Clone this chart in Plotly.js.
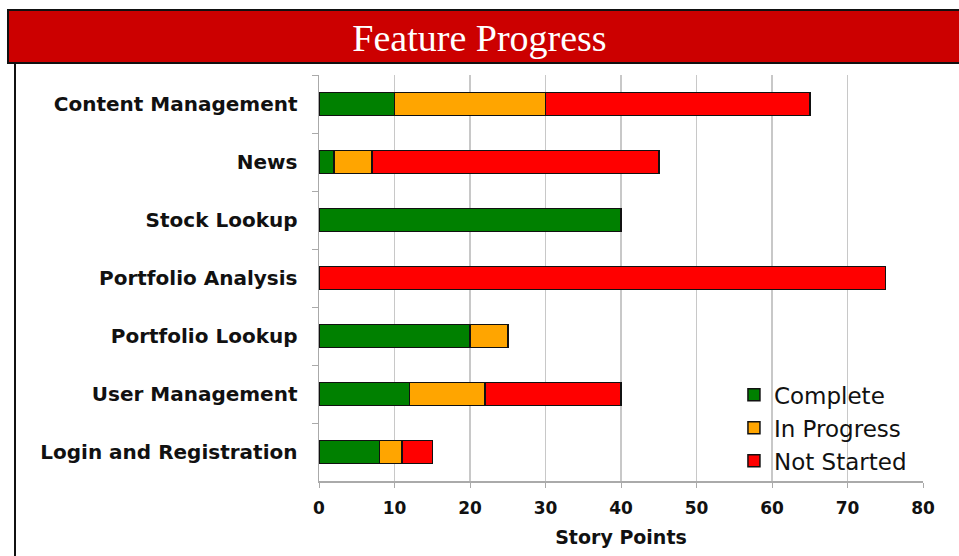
<!DOCTYPE html>
<html><head><meta charset="utf-8">
<script src="https://cdn.plot.ly/plotly-3.0.1.min.js"></script>
<style>html,body{margin:0;padding:0;background:#fff;}#chart{width:959px;height:556px;}</style>
</head><body><div id="chart"></div>
<script>
const categories = ["Content Management","News","Stock Lookup","Portfolio Analysis","Portfolio Lookup","User Management","Login and Registration"];
const complete   = [10, 2, 40, 0, 20, 12, 8];
const inProgress = [20, 5, 0, 0, 5, 10, 3];
const notStarted = [35, 38, 0, 75, 0, 18, 4];
const xTicks = [0,10,20,30,40,50,60,70,80];

const line = {color:'#111', width:1.5};
const traces = [
  {name:'Complete', y:categories, x:complete, type:'bar', orientation:'h', marker:{color:'#008000', line:line}, width:0.4},
  {name:'In Progress', y:categories, x:inProgress, type:'bar', orientation:'h', marker:{color:'#ffa500', line:line}, width:0.4},
  {name:'Not Started', y:categories, x:notStarted, type:'bar', orientation:'h', marker:{color:'#ff0000', line:line}, width:0.4}
];
const sans = 'DejaVu Sans, Arial, sans-serif';
const layout = {
  width:959, height:556,
  margin:{l:319, r:36, t:75, b:75},
  paper_bgcolor:'#fff', plot_bgcolor:'#fff',
  barmode:'stack',
  showlegend:true,
  title:{text:'Feature Progress', font:{family:'Liberation Serif, serif', size:38, color:'#fff'}, x:0.5, xanchor:'center', y:1-38/556, yanchor:'middle', yref:'container'},
  xaxis:{range:[0,80], tickvals:xTicks, ticktext:xTicks.map(String), showgrid:true, gridcolor:'#c8c8c8', gridwidth:1.5,
    showline:true, linecolor:'#aaa', linewidth:1.5, ticks:'outside', ticklen:5, tickcolor:'#aaa', zeroline:false, ticklabelstandoff:6,
    tickfont:{family:sans, size:17, color:'#111', weight:'bold'},
    title:{text:'<b>Story Points</b>', font:{family:sans, size:19, color:'#111'}, standoff:14}},
  yaxis:{type:'category', autorange:'reversed', showgrid:false, showline:true, linecolor:'#aaa', linewidth:1.5,
    ticks:'outside', ticklen:6, tickcolor:'#aaa', tickson:'boundaries', ticklabelstandoff:16,
    tickfont:{family:sans, size:20, color:'#111', weight:'bold'}},
  legend:{x:0.687, y:0.265, xanchor:'left', yanchor:'top', traceorder:'normal', bgcolor:'rgba(255,255,255,0)', font:{family:sans, size:23, color:'#111'}, tracegroupgap:0, itemwidth:30},
  shapes:[
    {type:'rect', xref:'paper', yref:'paper', x0:(8-319)/604, x1:(962-319)/604, y0:(481-63)/406, y1:(481-10)/406, fillcolor:'#cc0000', line:{color:'#111', width:2}, layer:'below'},
    {type:'line', xref:'paper', yref:'paper', x0:(15-319)/604, x1:(15-319)/604, y0:(481-63)/406, y1:(481-560)/406, line:{color:'#111', width:2}}
  ]
};
Plotly.newPlot('chart', traces, layout, {displayModeBar:false, staticPlot:true});
</script></body></html>
